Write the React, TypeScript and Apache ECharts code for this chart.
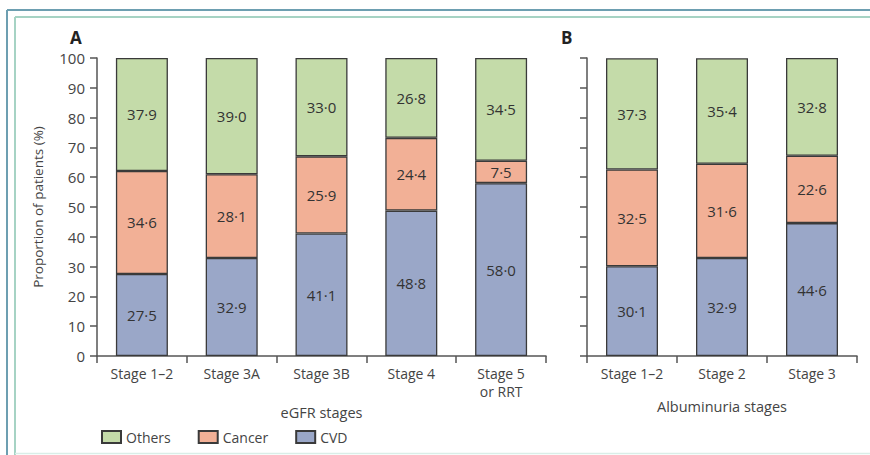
import React, { useEffect, useRef } from "react";
import * as echarts from "echarts";

// Panel A: eGFR stages
const egfrStages = ["Stage 1–2", "Stage 3A", "Stage 3B", "Stage 4", "Stage 5\nor RRT"];
const egfrCVD = [27.5, 32.9, 41.1, 48.8, 58.0];
const egfrCancer = [34.6, 28.1, 25.9, 24.4, 7.5];
const egfrOthers = [37.9, 39.0, 33.0, 26.8, 34.5];

// Panel B: albuminuria stages
const albStages = ["Stage 1–2", "Stage 2", "Stage 3"];
const albCVD = [30.1, 32.9, 44.6];
const albCancer = [32.5, 31.6, 22.6];
const albOthers = [37.3, 35.4, 32.8];

const yTicks = [0, 10, 20, 30, 40, 50, 60, 70, 80, 90, 100];

const COLORS = { Others: "#c4dba9", Cancer: "#f2b096", CVD: "#9aa7c8" };
const FONT = "'Open Sans', 'Noto Sans', sans-serif";
const AXIS = "#555";

const fmt = (p: any) => Number(p.value).toFixed(1).replace(".", "·");

function stackSeries(name: string, data: number[], axis: number) {
  return {
    type: "bar",
    name,
    data,
    stack: axis === 0 ? "egfr" : "alb",
    xAxisIndex: axis,
    yAxisIndex: axis,
    barWidth: 52,
    itemStyle: {
      color: (COLORS as any)[name],
      borderColor: "#3a3a3a",
      borderWidth: 1.3,
    },
    label: {
      show: true,
      position: "inside",
      formatter: fmt,
      color: "#333",
      fontSize: 15,
      fontFamily: FONT,
    },
  };
}

export default function App() {
  const ref = useRef<HTMLDivElement>(null);

  useEffect(() => {
    if (!ref.current) return;
    const chart = echarts.init(ref.current, null, { renderer: "svg" });

    const yAxisBase = (showLabels: boolean) => ({
      type: "value",
      min: yTicks[0],
      max: yTicks[yTicks.length - 1],
      interval: 10,
      splitLine: { show: false },
      axisLine: { show: true, lineStyle: { color: AXIS, width: 1.5 } },
      axisTick: { show: true, length: 7, lineStyle: { color: AXIS, width: 1.5 } },
      axisLabel: {
        show: showLabels,
        margin: 12,
        color: "#444",
        fontSize: 15,
        fontFamily: FONT,
      },
    });

    const xAxisBase = (data: string[], idx: number, name: string) => ({
      type: "category",
      gridIndex: idx,
      data,
      boundaryGap: true,
      name,
      nameLocation: "middle",
      nameGap: 43,
      nameTextStyle: { color: "#444", fontSize: 14.5, fontFamily: FONT },
      axisLine: { show: true, lineStyle: { color: AXIS, width: 1.5 } },
      axisTick: { show: true, length: 7, alignWithLabel: false, lineStyle: { color: AXIS, width: 1.5 } },
      axisLabel: {
        margin: 8,
        color: "#444",
        fontSize: 14,
        fontFamily: FONT,
        lineHeight: 18,
        interval: 0,
      },
    });

    chart.setOption({
      animation: false,
      backgroundColor: "#ffffff",
      textStyle: { fontFamily: FONT },
      grid: [
        { left: 97, width: 449, top: 58, height: 298 },
        { left: 587, width: 270, top: 58, height: 298 },
      ],
      xAxis: [
        xAxisBase(egfrStages, 0, "eGFR stages"),
        xAxisBase(albStages, 1, "Albuminuria stages"),
      ],
      yAxis: [
        { ...yAxisBase(true), gridIndex: 0 },
        { ...yAxisBase(false), gridIndex: 1 },
      ],
      legend: {
        data: ["Others", "Cancer", "CVD"],
        left: 96,
        top: 425,
        itemWidth: 19,
        itemHeight: 12,
        itemGap: 27,
        icon: "rect",
        textStyle: { color: "#444", fontSize: 14, fontFamily: FONT },
      },
      series: [
        stackSeries("CVD", egfrCVD, 0),
        stackSeries("Cancer", egfrCancer, 0),
        stackSeries("Others", egfrOthers, 0),
        stackSeries("CVD", albCVD, 1),
        stackSeries("Cancer", albCancer, 1),
        stackSeries("Others", albOthers, 1),
      ],
      graphic: [
        // double frame
        { type: "line", shape: { x1: 7, y1: 10, x2: 870, y2: 10 }, style: { stroke: "#6d9fb1", lineWidth: 2 } },
        { type: "line", shape: { x1: 7, y1: 10, x2: 7, y2: 455 }, style: { stroke: "#6d9fb1", lineWidth: 2 } },
        { type: "line", shape: { x1: 15, y1: 17, x2: 870, y2: 17 }, style: { stroke: "#a6d3c4", lineWidth: 2 } },
        { type: "line", shape: { x1: 15, y1: 17, x2: 15, y2: 455 }, style: { stroke: "#a6d3c4", lineWidth: 2 } },
        { type: "line", shape: { x1: 15, y1: 453.5, x2: 870, y2: 453.5 }, style: { stroke: "#d9eee8", lineWidth: 1.5 } },
        // panel letters
        {
          type: "text",
          x: 70,
          y: 37,
          style: { text: "A", fill: "#222", font: `bold 17px ${FONT}`, verticalAlign: "middle" },
        },
        {
          type: "text",
          x: 561,
          y: 37,
          style: { text: "B", fill: "#222", font: `bold 17px ${FONT}`, verticalAlign: "middle" },
        },
        // y-axis title
        {
          type: "text",
          x: 38,
          y: 207,
          rotation: Math.PI / 2,
          style: {
            text: "Proportion of patients (%)",
            font: `13.5px ${FONT}`,
            fill: "#444",
            align: "center",
            verticalAlign: "middle",
          },
        },
      ],
    });

    return () => chart.dispose();
  }, []);

  return (
    <div
      ref={ref}
      style={{ position: "fixed", left: 0, top: 0, width: 870, height: 455 }}
    />
  );
}
